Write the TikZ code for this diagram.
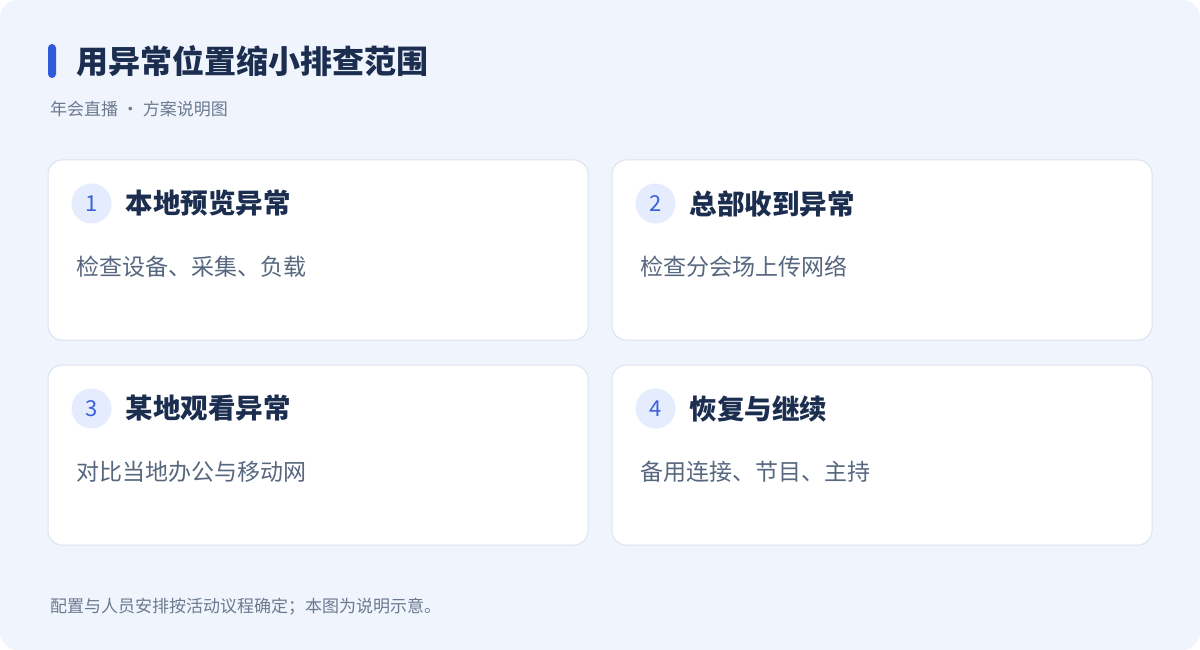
\documentclass[tikz,border=0pt]{standalone}
\usepackage{fontspec}
\setmainfont{Noto Sans CJK SC}
\usetikzlibrary{positioning}

\definecolor{bgblue}{HTML}{F0F4FD}
\definecolor{cardline}{HTML}{DCE3F0}
\definecolor{badgefill}{HTML}{E5ECFD}
\definecolor{badgetext}{HTML}{3A62D8}
\definecolor{titlenavy}{HTML}{1C2E4F}
\definecolor{descgray}{HTML}{56677F}
\definecolor{notegray}{HTML}{6B7A90}
\definecolor{accent}{HTML}{2F5BDB}

\begin{document}
\begin{tikzpicture}[x=1pt, y=-1pt, node distance=23pt]
\tikzstyle{card} = [rectangle, rounded corners=14pt, draw=cardline, line width=1pt, fill=white, minimum width=540pt, minimum height=180pt, inner sep=0pt]
\tikzstyle{badge} = [circle, fill=badgefill, minimum size=40pt, inner sep=0pt, text=badgetext, font=\fontsize{22pt}{26pt}\selectfont]
\tikzstyle{cardtitle} = [anchor=west, inner sep=0pt, text=titlenavy, font=\fontsize{27.5pt}{32pt}\selectfont\bfseries]
\tikzstyle{carddesc} = [anchor=west, inner sep=0pt, text=descgray, font=\fontsize{23pt}{28pt}\selectfont]
\tikzstyle{note} = [anchor=west, inner sep=0pt, text=notegray, font=\fontsize{17pt}{20pt}\selectfont]

\fill[white] (0,0) rectangle (1200,650);
\useasboundingbox (0,0) rectangle (1200,650);
\fill[bgblue, rounded corners=18pt] (0,0) rectangle (1200,650);

% heading
\fill[accent, rounded corners=4pt] (48,44) rectangle (56,78);
\node (title) [anchor=west, inner sep=0pt, text=titlenavy, font=\fontsize{32pt}{38pt}\selectfont\bfseries] at (76,61) {用异常位置缩小排查范围};
\node (subtitle) [note] at (50,109) {年会直播 · 方案说明图};

% cards
\node (card1) [card] at (318,250) {};
\node (card2) [card, right=of card1] {};
\node (card3) [card, below=24pt of card1] {};
\node (card4) [card, below=24pt of card2] {};

\node (badge1) [badge] at ([shift={(44,44)}]card1.north west) {1};
\node (badge2) [badge] at ([shift={(44,44)}]card2.north west) {2};
\node (badge3) [badge] at ([shift={(44,44)}]card3.north west) {3};
\node (badge4) [badge] at ([shift={(44,44)}]card4.north west) {4};

\node (head1) [cardtitle, right=14pt of badge1] {本地预览异常};
\node (head2) [cardtitle, right=14pt of badge2] {总部收到异常};
\node (head3) [cardtitle, right=14pt of badge3] {某地观看异常};
\node (head4) [cardtitle, right=14pt of badge4] {恢复与继续};

\node (desc1) [carddesc] at ([shift={(28.5,107)}]card1.north west) {检查设备、采集、负载};
\node (desc2) [carddesc] at ([shift={(28.5,107)}]card2.north west) {检查分会场上传网络};
\node (desc3) [carddesc] at ([shift={(28.5,107)}]card3.north west) {对比当地办公与移动网};
\node (desc4) [carddesc] at ([shift={(28.5,107)}]card4.north west) {备用连接、节目、主持};

% footer
\node (footer) [note] at (50,607) {配置与人员安排按活动议程确定；本图为说明示意。};
\end{tikzpicture}
\end{document}
